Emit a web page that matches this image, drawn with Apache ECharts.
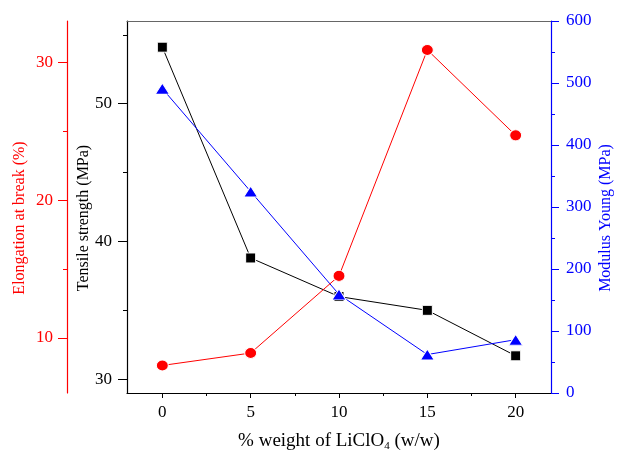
<!DOCTYPE html>
<html lang="en">
<head>
<meta charset="utf-8" />
<style>
  html, body { margin: 0; padding: 0; background: #fff; }
  .box { width: 617px; height: 450px; }
</style>
</head>
<body>
<div class="box"></div>
<script src="https://cdn.jsdelivr.net/npm/echarts@6/dist/echarts.min.js"></script>
<script>
// data
var loading = [0, 5, 10, 15, 20];           // % weight of LiClO4
var tensile = [54.1, 38.8, 36.0, 35.0, 31.7]; // MPa
var elongation = [8.0, 8.9, 14.5, 30.9, 24.7]; // %
var modulus = [491, 325, 159, 62, 86];        // MPa

var xTicks = [0, 5, 10, 15, 20];
var xMinor = [2.5, 7.5, 12.5, 17.5];
var tensileTicks = [30, 40, 50];
var tensileMinor = [35, 45, 55];
var elongTicks = [10, 20, 30];
var elongMinor = [15, 25];

function pairs(xs, ys) {
  var out = [];
  for (var i = 0; i < xs.length; i++) out.push([xs[i], ys[i]]);
  return out;
}

var font = 'Liberation Serif';
var chart = echarts.init(document.querySelector('.box'));

var option = {
  animation: false,
  textStyle: { fontFamily: font },
  grid: { left: 127, right: 66, top: 21, bottom: 57, outerBoundsMode: 'none' },
  xAxis: [{
    type: 'value', min: -2, max: 22, position: 'bottom',
    name: '% weight of LiClO{sub|4} (w/w)', nameLocation: 'middle', nameGap: 38, nameMoveOverlap: false,
    nameTextStyle: {
      fontFamily: font, fontSize: 19, color: '#000',
      rich: { sub: { fontFamily: font, fontSize: 11, color: '#000', verticalAlign: 'bottom', padding: [10, 0, 0, 0] } }
    },
    axisLine: { show: true, onZero: false, lineStyle: { color: '#000', width: 1.2 } },
    axisTick: { show: true, inside: false, length: 5, customValues: xTicks, lineStyle: { color: '#000' } },
    axisLabel: { customValues: xTicks, margin: 11, fontFamily: font, fontSize: 17, color: '#000' },
    splitLine: { show: false }
  }, {
    type: 'value', min: -2, max: 22, position: 'bottom',
    axisLine: { show: false, onZero: false },
    axisTick: { show: true, inside: false, length: 3, customValues: xMinor, lineStyle: { color: '#000' } },
    axisLabel: { show: false },
    splitLine: { show: false }
  }, {
    type: 'value', min: -2, max: 22, position: 'top',
    axisLine: { show: true, onZero: false, lineStyle: { color: '#666', width: 1.2 } },
    axisTick: { show: false },
    axisLabel: { show: false },
    splitLine: { show: false }
  }],
  yAxis: [{
    type: 'value', min: 29, max: 56, position: 'left', offset: 0,
    name: 'Tensile strength (MPa)', nameLocation: 'middle', nameGap: 35, nameRotate: 90, nameMoveOverlap: false,
    nameTextStyle: { fontFamily: font, fontSize: 16, color: '#000', padding: [0, 22, 0, 0] },
    axisLine: { show: true, onZero: false, lineStyle: { color: '#000', width: 1.2 } },
    axisTick: { show: true, inside: false, length: 9, customValues: tensileTicks, lineStyle: { color: '#000' } },
    axisLabel: { customValues: tensileTicks, margin: 15, fontFamily: font, fontSize: 17, color: '#000' },
    splitLine: { show: false }
  }, {
    type: 'value', min: 29, max: 56, position: 'left', offset: 0,
    axisLine: { show: false, onZero: false },
    axisTick: { show: true, inside: false, length: 4, customValues: tensileMinor, lineStyle: { color: '#000' } },
    axisLabel: { show: false },
    splitLine: { show: false }
  }, {
    type: 'value', min: 6, max: 33, position: 'left', offset: 60,
    name: 'Elongation at break (%)', nameLocation: 'middle', nameGap: 39, nameRotate: 90, nameMoveOverlap: false,
    nameTextStyle: { fontFamily: font, fontSize: 16, color: '#ff0000', padding: [0, 22, 0, 0] },
    axisLine: { show: true, onZero: false, lineStyle: { color: '#ff0000', width: 1.2 } },
    axisTick: { show: true, inside: false, length: 9, customValues: elongTicks, lineStyle: { color: '#ff0000' } },
    axisLabel: { customValues: elongTicks, margin: 14, fontFamily: font, fontSize: 17, color: '#ff0000' },
    splitLine: { show: false }
  }, {
    type: 'value', min: 6, max: 33, position: 'left', offset: 60,
    axisLine: { show: false, onZero: false },
    axisTick: { show: true, inside: false, length: 4, customValues: elongMinor, lineStyle: { color: '#ff0000' } },
    axisLabel: { show: false },
    splitLine: { show: false }
  }, {
    type: 'value', min: 0, max: 600, interval: 100, position: 'right',
    name: 'Modulus Young (MPa)', nameLocation: 'middle', nameGap: 47, nameRotate: 90, nameMoveOverlap: false,
    nameTextStyle: { fontFamily: font, fontSize: 16, color: '#0000ff', padding: [0, 22, 0, 0] },
    axisLine: { show: true, onZero: false, lineStyle: { color: '#0000ff', width: 1.2 } },
    axisTick: { show: true, inside: false, length: 8, lineStyle: { color: '#0000ff' } },
    minorTick: { show: true, splitNumber: 2, length: 4, lineStyle: { color: '#0000ff' } },
    axisLabel: { margin: 15, fontFamily: font, fontSize: 17, color: '#0000ff' },
    splitLine: { show: false }
  }],
  series: [{
    name: 'Tensile strength', type: 'line', xAxisIndex: 0, yAxisIndex: 0,
    data: pairs(loading, tensile),
    symbol: 'rect', symbolSize: 10,
    lineStyle: { color: '#000', width: 1 },
    itemStyle: { color: '#000', borderColor: '#fff', borderWidth: 1 },
    z: 2
  }, {
    name: 'Modulus Young', type: 'line', xAxisIndex: 0, yAxisIndex: 4,
    data: pairs(loading, modulus),
    symbol: 'triangle', symbolSize: [14, 11],
    lineStyle: { color: '#0000ff', width: 1 },
    itemStyle: { color: '#0000ff', borderColor: '#fff', borderWidth: 1 },
    z: 3
  }, {
    name: 'Elongation at break', type: 'line', xAxisIndex: 0, yAxisIndex: 2,
    data: pairs(loading, elongation),
    symbol: 'circle', symbolSize: [12, 11],
    lineStyle: { color: '#ff0000', width: 1 },
    itemStyle: { color: '#ff0000', borderColor: '#fff', borderWidth: 1 },
    z: 4
  }]
};

chart.setOption(option);
</script>
</body>
</html>
